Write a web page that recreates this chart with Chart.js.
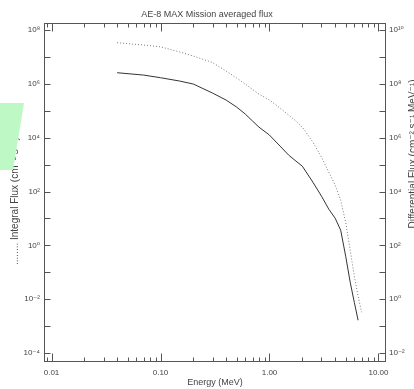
<!DOCTYPE html>
<html>
<head>
<meta charset="utf-8">
<script src="https://cdn.jsdelivr.net/npm/chart.js@4/dist/chart.umd.min.js"></script>
<style>
  body { margin: 0; background: #fff; }
  #wrap { width: 414px; height: 389px; }
</style>
</head>
<body>
<div id="wrap"><canvas id="flux" width="414" height="389"></canvas></div>
<script>
// energies (MeV) and the two AE-8 MAX spectra
var energy = [0.04, 0.07, 0.1, 0.15, 0.2, 0.3, 0.4, 0.5, 0.6, 0.7, 0.8, 1.0, 1.25, 1.5, 1.75, 2.0, 2.5, 3.0, 3.5, 4.0, 4.5, 5.0, 5.5, 6.0, 6.5, 7.0];
var integralFlux = [3.37e7, 2.77e7, 2.37e7, 1.52e7, 1.08e7, 6.19e6, 2.99e6, 1.64e6, 9.8e5, 6.14e5, 4.18e5, 2.5e5, 1.26e5, 6.92e4, 4.17e4, 2.48e4, 6.86e3, 1.9e3, 526, 173, 47.9, 7.28, 0.664, 0.0716, 0.0129, 0.00329];
var differentialFlux = [2.59e8, 2.12e8, 1.69e8, 1.27e8, 9.84e7, 4.55e7, 2.5e7, 1.37e7, 7.54e6, 4.14e6, 2.48e6, 1.25e6, 4.88e5, 2.26e5, 1.35e5, 8.8e4, 2.23e4, 6.74e3, 2.22e3, 1.03e3, 367, 39.7, 4.29, 0.773, 0.166, null];
var energyTicks = [0.01, 0.1, 1, 10];
var integralTicks = [1e-4, 1e-2, 1, 1e2, 1e4, 1e6, 1e8];
var differentialTicks = [1e-2, 1, 1e2, 1e4, 1e6, 1e8, 1e10];

var textColor = "#444";
var axisColor = "#555";
var fam = "'Liberation Sans', 'DejaVu Sans', sans-serif";

function sup(n) {
	var map = { "-": "\u207B", "0": "\u2070", "1": "\u00B9", "2": "\u00B2", "3": "\u00B3", "4": "\u2074", "5": "\u2075", "6": "\u2076", "7": "\u2077", "8": "\u2078", "9": "\u2079" };
	return String(n).split("").map(function (c) { return map[c]; }).join("");
}
function powLabel(v) {
	return "10" + sup(Math.round(Math.log10(v)));
}
function toPoints(ys) {
	var pts = [];
	for (var i = 0; i < energy.length; i++) {
		if (ys[i] !== null) pts.push({ x: energy[i], y: ys[i] });
	}
	return pts;
}
function setTicks(list) {
	return function (scale) {
		scale.ticks = list.map(function (v) { return { value: v }; });
	};
}
function vText(ctx, txt, x, y, align) {
	ctx.save();
	ctx.translate(x, y);
	ctx.rotate(-Math.PI / 2);
	ctx.textAlign = align;
	ctx.textBaseline = "middle";
	ctx.fillText(txt, 0, 0);
	ctx.restore();
}

var frame = {
	id: "frame",
	afterDraw: function (chart) {
		var ctx = chart.ctx, a = chart.chartArea;
		var sx = chart.scales.x, yl = chart.scales.y, yr = chart.scales.y2;
		var L = Math.round(a.left) + 0.5, R = Math.round(a.right) - 0.5;
		var T = Math.round(a.top) + 0.5, B = Math.round(a.bottom) - 0.5;
		ctx.save();
		ctx.strokeStyle = axisColor;
		ctx.lineWidth = 1;
		ctx.strokeRect(L, T, R - L, B - T);
		ctx.beginPath();
		for (var d = -3; d <= 1; d++) {
			for (var m = 1; m <= 9; m++) {
				var v = m * Math.pow(10, d);
				if (v < sx.min || v > sx.max) continue;
				var px = Math.round(sx.getPixelForValue(v)) + 0.5;
				var len = m === 1 ? 8 : 4;
				ctx.moveTo(px, B); ctx.lineTo(px, B - len);
				ctx.moveTo(px, T); ctx.lineTo(px, T + len);
			}
		}
		for (var e = -4; e <= 8; e++) {
			var py = Math.round(yl.getPixelForValue(Math.pow(10, e))) + 0.5;
			ctx.moveTo(L, py); ctx.lineTo(L + 6, py);
		}
		for (var e2 = -2; e2 <= 10; e2++) {
			var py2 = Math.round(yr.getPixelForValue(Math.pow(10, e2))) + 0.5;
			ctx.moveTo(R, py2); ctx.lineTo(R - 6, py2);
		}
		ctx.stroke();

		// axis titles, both read bottom to top
		ctx.fillStyle = textColor;
		ctx.font = "10px " + fam;
		vText(ctx, "........ Integral Flux (cm\u207B\u00B2 s\u207B\u00B9)", 15, 265, "left");
		vText(ctx, "Differential Flux (cm\u207B\u00B2 s\u207B\u00B9 MeV\u207B\u00B9)", 413, 154, "center");
		ctx.restore();

		// green highlight over the left title
		ctx.save();
		ctx.fillStyle = "rgb(190,248,196)";
		ctx.beginPath();
		ctx.moveTo(0, 103); ctx.lineTo(24, 103); ctx.lineTo(13, 170); ctx.lineTo(0, 170);
		ctx.closePath();
		ctx.fill();
		ctx.restore();
	}
};

var chartctx = document.getElementById("flux").getContext("2d");
var chart = new Chart(chartctx, {
	type: "line",
	data: {
		datasets: [{
			label: "Integral",
			data: toPoints(integralFlux),
			yAxisID: "y",
			borderColor: "#777",
			borderWidth: 1,
			borderDash: [1, 2],
			pointRadius: 0,
			tension: 0,
			fill: false
		}, {
			label: "Differential",
			data: toPoints(differentialFlux),
			yAxisID: "y2",
			borderColor: "#333",
			borderWidth: 1,
			pointRadius: 0,
			tension: 0,
			fill: false
		}]
	},
	options: {
		responsive: false,
		animation: false,
		layout: { padding: 0 },
		plugins: {
			legend: { display: false },
			tooltip: { enabled: false },
			title: {
				display: true,
				text: "AE-8 MAX Mission averaged flux",
				color: textColor,
				font: { family: fam, size: 9, weight: "normal" },
				padding: { top: 9, bottom: 3.2 }
			}
		},
		scales: {
			x: {
				type: "logarithmic",
				position: "bottom",
				min: 0.008533,
				max: 11.72,
				afterBuildTicks: setTicks(energyTicks),
				afterFit: function (s) { s.height = 27; },
				grid: { display: false, drawTicks: false },
				border: { display: false },
				ticks: {
					autoSkip: false, maxRotation: 0, padding: 6, color: textColor,
					font: { family: fam, size: 8 },
					callback: function (v) { return Number(v).toFixed(2); }
				},
				title: {
					display: true, text: "Energy (MeV)", color: textColor,
					font: { family: fam, size: 9 }, padding: { top: 0, bottom: 1.2 }
				}
			},
			y: {
				type: "logarithmic",
				position: "left",
				min: Math.pow(10, -4.33),
				max: Math.pow(10, 8.26),
				afterBuildTicks: setTicks(integralTicks),
				afterFit: function (s) { s.width = 44; },
				grid: { display: false, drawTicks: false },
				border: { display: false },
				ticks: {
					autoSkip: false, padding: 4, color: textColor,
					font: { family: fam, size: 8 },
					callback: function (v) { return powLabel(v); }
				}
			},
			y2: {
				type: "logarithmic",
				position: "right",
				min: Math.pow(10, -2.33),
				max: Math.pow(10, 10.26),
				afterBuildTicks: setTicks(differentialTicks),
				afterFit: function (s) { s.width = 28; },
				grid: { display: false, drawTicks: false },
				border: { display: false },
				ticks: {
					autoSkip: false, padding: 3, color: textColor,
					font: { family: fam, size: 8 },
					callback: function (v) { return powLabel(v); }
				}
			}
		}
	},
	plugins: [frame]
});
</script>
</body>
</html>
